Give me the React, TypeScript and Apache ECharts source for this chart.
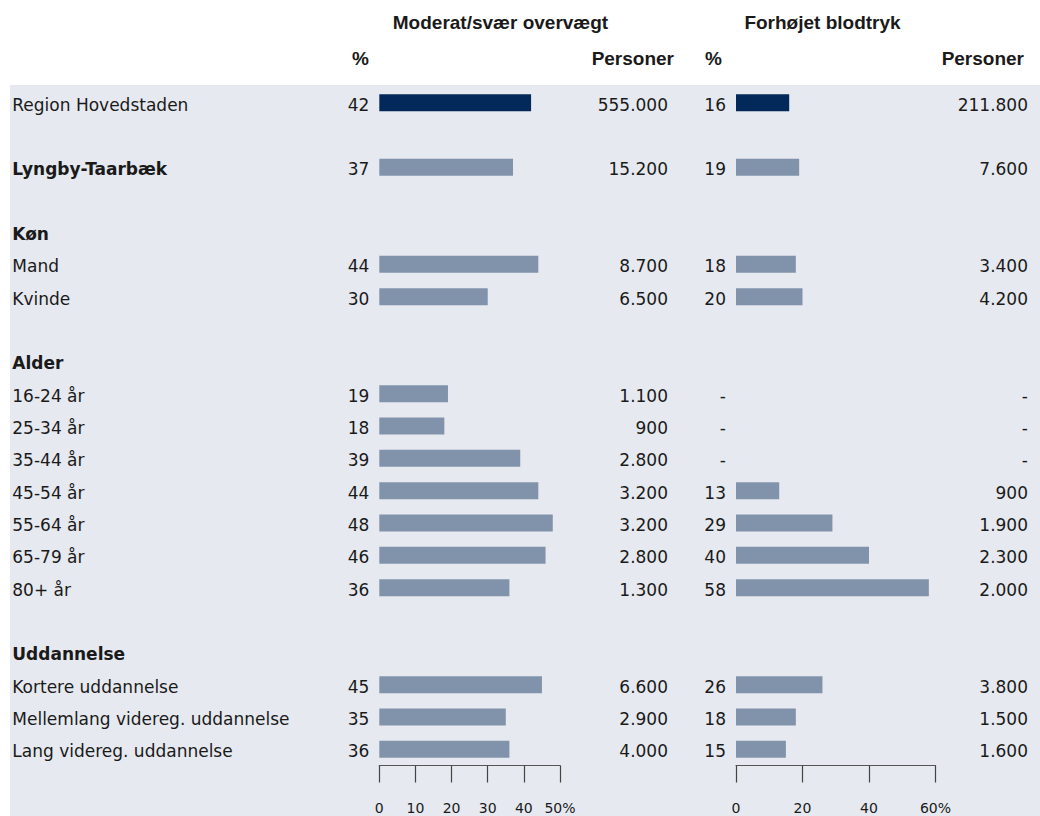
import React, { useEffect, useRef } from "react";
import * as echarts from "echarts";

const rowLabels = [
  "Region Hovedstaden", "", "Lyngby-Taarbæk", "", "Køn", "Mand", "Kvinde", "",
  "Alder", "16-24 år", "25-34 år", "35-44 år", "45-54 år", "55-64 år", "65-79 år", "80+ år", "",
  "Uddannelse", "Kortere uddannelse", "Mellemlang videreg. uddannelse", "Lang videreg. uddannelse",
];
const boldRows = ["Lyngby-Taarbæk", "Køn", "Alder", "Uddannelse"];
const highlightRow = "Region Hovedstaden";

const overvaegtPct = [42, null, 37, null, null, 44, 30, null, null, 19, 18, 39, 44, 48, 46, 36, null, null, 45, 35, 36];
const overvaegtPersoner = ["555.000", "", "15.200", "", "", "8.700", "6.500", "", "", "1.100", "900", "2.800", "3.200", "3.200", "2.800", "1.300", "", "", "6.600", "2.900", "4.000"];
const blodtrykPct = [16, null, 19, null, null, 18, 20, null, null, "-", "-", "-", 13, 29, 40, 58, null, null, 26, 18, 15];
const blodtrykPersoner = ["211.800", "", "7.600", "", "", "3.400", "4.200", "", "", "-", "-", "-", "900", "1.900", "2.300", "2.000", "", "", "3.800", "1.500", "1.600"];

const overvaegtTicks = { min: 0, max: 50, interval: 10 };
const blodtrykTicks = { min: 0, max: 60, interval: 20 };

const headerMain = ["Moderat/svær overvægt", "Forhøjet blodtryk"];
const headerSub = ["%", "Personer"];

const FONT = "DejaVu Sans";
const HFONT = "Liberation Sans";
const TXT = "#1a1a1a";
const BAR = "#8193ab";
const BAR_DARK = "#02295a";
const BG = "#e6e9ef";

export default function App() {
  const ref = useRef<HTMLDivElement>(null);
  useEffect(() => {
    document.body.style.margin = "0";
    const chart = echarts.init(ref.current!, null, { renderer: "svg" });
    const cats = rowLabels.map((_, i) => String(i));
    const gridTop = 86.5;
    const gridH = 679;

    const barData = (arr: any[]) =>
      arr.map((v, i) =>
        typeof v === "number"
          ? { value: v, itemStyle: { color: rowLabels[i] === highlightRow ? BAR_DARK : BAR } }
          : "-"
      );

    const pctText = (v: any) => (v === null || v === undefined ? "" : String(v));

    const xAxisBase = (grid: number, t: any) => ({
      type: "value",
      gridIndex: grid,
      min: t.min,
      max: t.max,
      interval: t.interval,
      axisLine: { show: true, lineStyle: { color: "#555", width: 1.2 } },
      axisTick: { show: true, length: 17, lineStyle: { color: "#444", width: 1.2 } },
      splitLine: { show: false },
      axisLabel: {
        margin: 35,
        fontSize: 14,
        fontFamily: FONT,
        color: TXT,
        formatter: (v: number) => (v === t.max ? v + "%" : String(v)),
      },
    });

    const hidden = { axisLine: { show: false }, axisTick: { show: false }, splitLine: { show: false } };
    const txt = { fontSize: 17, fontFamily: FONT, color: TXT, padding: [4, 0, 0, 0] };
    const hstyle = (text: string, x: number, y: number, align: string) => ({
      type: "text",
      x,
      y,
      style: { text, font: `bold 19px "${HFONT}"`, fill: TXT, textAlign: align, textVerticalAlign: "middle" },
    });

    const option: any = {
      animation: false,
      graphic: [
        { type: "rect", z: -100, shape: { x: 10, y: 85, width: 1030, height: 731 }, style: { fill: BG } },
        hstyle(headerMain[0], 500.5, 22, "center"),
        hstyle(headerMain[1], 822.5, 22, "center"),
        hstyle(headerSub[0], 369, 58, "right"),
        hstyle(headerSub[1], 674, 58, "right"),
        hstyle(headerSub[0], 722, 58, "right"),
        hstyle(headerSub[1], 1024, 58, "right"),
      ],
      grid: [
        { left: 379.3, width: 180.7, top: gridTop, height: gridH },
        { left: 736, width: 199.5, top: gridTop, height: gridH },
      ],
      xAxis: [xAxisBase(0, overvaegtTicks), xAxisBase(1, blodtrykTicks)],
      yAxis: [
        {
          type: "category", gridIndex: 0, data: cats, inverse: true, position: "left", ...hidden,
          axisLabel: {
            margin: 10, interval: 0,
            formatter: (_: any, i: number) => {
              const name = rowLabels[i];
              const key = boldRows.includes(name) ? "b" : "n";
              const p = pctText(overvaegtPct[i]);
              return `{${key}|${name}}{p|${p}}`;
            },
            rich: {
              n: { ...txt, width: 317, align: "left" },
              b: { ...txt, width: 317, align: "left", fontWeight: "bold" },
              p: { ...txt, width: 40, align: "right" },
            },
          },
        },
        {
          type: "category", gridIndex: 0, data: cats, inverse: true, position: "right", ...hidden,
          axisLabel: {
            margin: 8, interval: 0,
            formatter: (_: any, i: number) => `{v|${overvaegtPersoner[i]}}`,
            rich: { v: { ...txt, width: 100, align: "right" } },
          },
        },
        {
          type: "category", gridIndex: 1, data: cats, inverse: true, position: "left", ...hidden,
          axisLabel: {
            margin: 10, interval: 0,
            formatter: (_: any, i: number) => `{p|${pctText(blodtrykPct[i])}}`,
            rich: { p: { ...txt, width: 40, align: "right" } },
          },
        },
        {
          type: "category", gridIndex: 1, data: cats, inverse: true, position: "right", ...hidden,
          axisLabel: {
            margin: 8.5, interval: 0,
            formatter: (_: any, i: number) => `{v|${blodtrykPersoner[i]}}`,
            rich: { v: { ...txt, width: 84, align: "right" } },
          },
        },
      ],
      series: [
        { type: "bar", xAxisIndex: 0, yAxisIndex: 0, barWidth: 17, data: barData(overvaegtPct) },
        { type: "bar", xAxisIndex: 1, yAxisIndex: 2, barWidth: 17, data: barData(blodtrykPct) },
      ],
    };
    chart.setOption(option);
    return () => chart.dispose();
  }, []);
  return <div ref={ref} style={{ width: 1040, height: 816 }} />;
}
